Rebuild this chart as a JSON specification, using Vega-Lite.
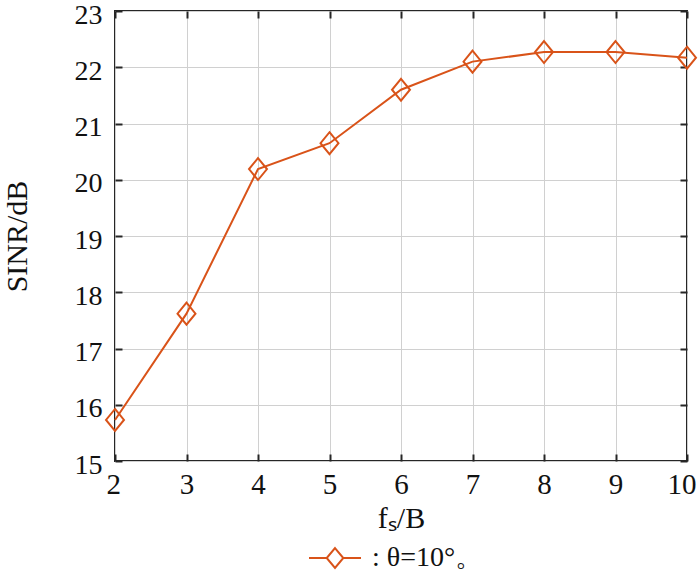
{
  "$schema": "https://vega.github.io/schema/vega-lite/v6.json",
  "width": 572,
  "height": 450,
  "autosize": {"type": "none"},
  "padding": {"left": 115, "top": 11, "right": 13, "bottom": 112},
  "background": "white",
  "config": {
    "font": "Liberation Serif",
    "view": {"stroke": "#262626", "strokeWidth": 2},
    "axis": {
      "labelFont": "Liberation Serif",
      "titleFont": "Liberation Serif",
      "labelFontSize": 29,
      "titleFontSize": 30,
      "labelColor": "#111",
      "titleColor": "#111",
      "titleFontWeight": "normal",
      "gridColor": "#d0d0d0",
      "gridWidth": 1,
      "domain": false,
      "tickColor": "#262626",
      "tickWidth": 2,
      "tickSize": -7,
      "labelFlush": false,
      "labelOverlap": false
    }
  },
  "data": {
    "values": [
      {"fs": 2, "sinr": 15.73},
      {"fs": 3, "sinr": 17.62},
      {"fs": 4, "sinr": 20.19},
      {"fs": 5, "sinr": 20.65},
      {"fs": 6, "sinr": 21.6},
      {"fs": 7, "sinr": 22.1},
      {"fs": 8, "sinr": 22.27},
      {"fs": 9, "sinr": 22.27},
      {"fs": 10, "sinr": 22.17}
    ]
  },
  "layer": [
    {
      "mark": {"type": "line", "color": "#D95319", "strokeWidth": 2},
      "encoding": {
        "x": {
          "field": "fs",
          "type": "quantitative",
          "scale": {"domain": [2, 10], "nice": false},
          "axis": {"orient": "bottom", "values": [2,3,4,5,6,7,8,9,10], "title": "fₛ/B", "labelPadding": 16, "titlePadding": 4, "labelFlush": true, "labelFlushOffset": 9}
        },
        "y": {
          "field": "sinr",
          "type": "quantitative",
          "scale": {"domain": [15, 23], "nice": false, "zero": false},
          "axis": {"orient": "left", "values": [15,16,17,18,19,20,21,22,23], "title": "SINR/dB", "labelPadding": 20, "titlePadding": 42, "labelOffset": 4, "labelFontSize": 28}
        }
      }
    },
    {
      "mark": {"type": "point", "filled": false, "strokeWidth": 2, "size": 480, "shape": "M0,-1L0.82,0L0,1L-0.82,0Z", "opacity": 1},
      "encoding": {
        "x": {
          "field": "fs",
          "type": "quantitative",
          "axis": {"orient": "top", "values": [2,3,4,5,6,7,8,9,10], "labels": false, "title": null, "grid": false}
        },
        "y": {
          "field": "sinr",
          "type": "quantitative",
          "axis": {"orient": "right", "values": [15,16,17,18,19,20,21,22,23], "labels": false, "title": null, "grid": false}
        },
        "color": {
          "datum": ": θ=10°。",
          "scale": {"range": ["#D95319"]},
          "legend": {
            "title": null,
            "orient": "none",
            "legendX": 193,
            "legendY": 520,
            "symbolType": "M-1,0H-0.32M0.32,0H1M0,-0.38L0.32,0L0,0.38L-0.32,0Z",
            "symbolSize": 2704,
            "symbolStrokeWidth": 2,
            "symbolFillColor": "transparent",
            "symbolStrokeColor": "#D95319",
            "labelFont": "Liberation Serif",
            "labelFontSize": 28,
            "labelColor": "#111",
            "labelOffset": 10
          }
        }
      }
    }
  ],
  "resolve": {"axis": {"x": "independent", "y": "independent"}}
}
